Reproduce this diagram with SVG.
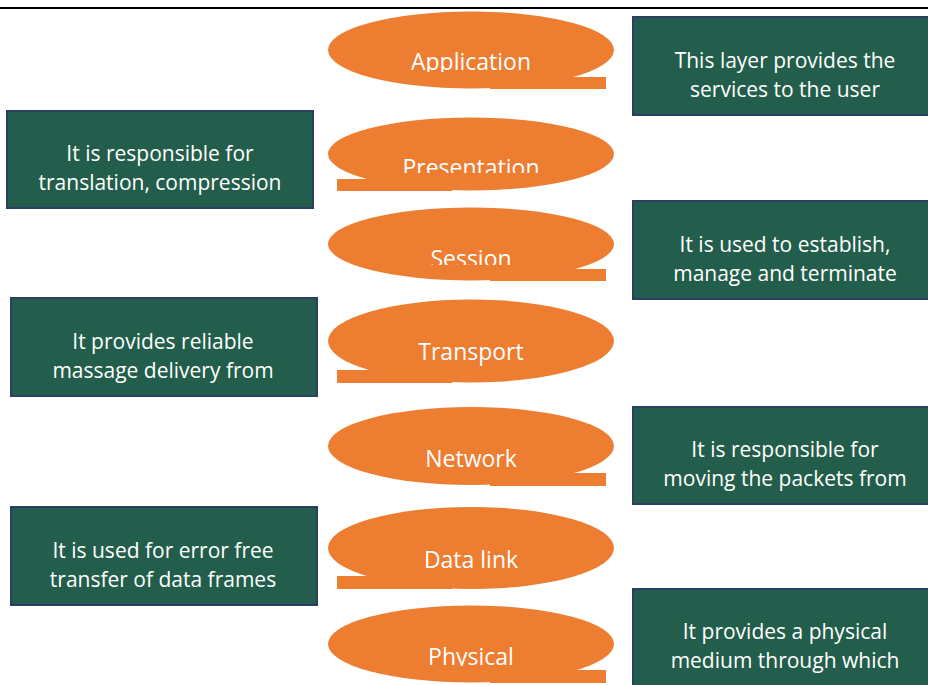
<svg xmlns="http://www.w3.org/2000/svg" width="928" height="685" viewBox="0 0 928 685">
<style>
.layer{fill:#ED7D31;}
.lt{font-family:"Open Sans","Liberation Sans",sans-serif;font-size:23px;fill:#FFFFFF;text-anchor:middle;}
.box{fill:#225E4B;stroke:#2B3F66;stroke-width:2;}
.bt{font-family:"Open Sans","Liberation Sans",sans-serif;font-size:21px;fill:#FFFFFF;text-anchor:middle;}
</style>
<defs>
<clipPath id="c1"><rect x="300" y="0" width="340" height="72"/></clipPath>
<clipPath id="c2"><rect x="300" y="100" width="340" height="73"/></clipPath>
<clipPath id="c3"><rect x="300" y="200" width="340" height="65"/></clipPath>
<clipPath id="c7"><rect x="300" y="600" width="340" height="66"/></clipPath>
</defs>
<rect x="0" y="0" width="928" height="685" fill="#FFFFFF"/>
<line x1="0" y1="8" x2="928" y2="8" stroke="#000000" stroke-width="2"/>
<g id="connectors"/>

<g id="application">
<ellipse class="layer" cx="471" cy="50" rx="143" ry="38.5"/>
<rect class="layer" x="490" y="77" width="116" height="12"/>
<text class="lt" x="471" y="70" clip-path="url(#c1)">Application</text>
</g>
<g id="presentation">
<ellipse class="layer" cx="471" cy="154" rx="143" ry="36.5"/>
<rect class="layer" x="337" y="179" width="115" height="12"/>
<text class="lt" x="471" y="176" clip-path="url(#c2)">Presentation</text>
</g>
<g id="session">
<ellipse class="layer" cx="471" cy="244" rx="143" ry="36.5"/>
<rect class="layer" x="490" y="269" width="116" height="12"/>
<text class="lt" x="471" y="267" clip-path="url(#c3)">Session</text>
</g>
<g id="transport">
<ellipse class="layer" cx="471" cy="341" rx="143" ry="41.5"/>
<rect class="layer" x="337" y="370" width="115" height="13"/>
<text class="lt" x="471" y="360">Transport</text>
</g>
<g id="network">
<ellipse class="layer" cx="471" cy="446" rx="143" ry="39"/>
<rect class="layer" x="490" y="473" width="116" height="13"/>
<text class="lt" x="471" y="467">Network</text>
</g>
<g id="datalink">
<ellipse class="layer" cx="471" cy="548" rx="143" ry="41"/>
<rect class="layer" x="337" y="576" width="115" height="13"/>
<text class="lt" x="471" y="568">Data link</text>
</g>
<g id="physical">
<ellipse class="layer" cx="471" cy="644" rx="143" ry="38.5"/>
<rect class="layer" x="490" y="670" width="116" height="13"/>
<text class="lt" x="471" y="665" clip-path="url(#c7)">Physical</text>
</g>

<g id="desc-application">
<rect class="box" x="633" y="17" width="300" height="98"/>
<text class="bt" x="785" y="68">This layer provides the</text>
<text class="bt" x="785" y="97">services to the user</text>
</g>
<g id="desc-presentation">
<rect class="box" x="7" y="111" width="306" height="97"/>
<text class="bt" x="160" y="161">It is responsible for</text>
<text class="bt" x="160" y="190">translation, compression</text>
</g>
<g id="desc-session">
<rect class="box" x="633" y="201" width="300" height="98"/>
<text class="bt" x="785" y="252">It is used to establish,</text>
<text class="bt" x="785" y="281">manage and terminate</text>
</g>
<g id="desc-transport">
<rect class="box" x="11" y="298" width="306" height="98"/>
<text class="bt" x="163" y="349">It provides reliable</text>
<text class="bt" x="163" y="378">massage delivery from</text>
</g>
<g id="desc-network">
<rect class="box" x="633" y="407" width="300" height="97"/>
<text class="bt" x="785" y="457">It is responsible for</text>
<text class="bt" x="785" y="486">moving the packets from</text>
</g>
<g id="desc-datalink">
<rect class="box" x="11" y="507" width="306" height="98"/>
<text class="bt" x="163" y="558">It is used for error free</text>
<text class="bt" x="163" y="587">transfer of data frames</text>
</g>
<g id="desc-physical">
<rect class="box" x="633" y="589" width="300" height="100"/>
<text class="bt" x="785" y="639">It provides a physical</text>
<text class="bt" x="785" y="668">medium through which</text>
</g>
</svg>
